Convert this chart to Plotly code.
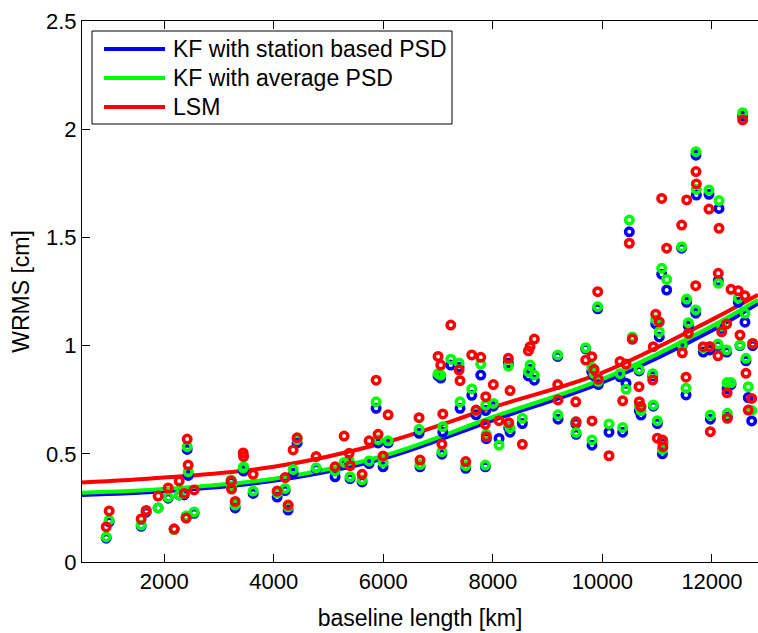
import plotly.graph_objects as go

# ---- data ----
baseline_km = [942, 996, 1580, 1672, 1890, 2073, 2182, 2274, 2365, 2401, 2420, 2438, 2547,
               3223, 3230, 3296, 3442, 3450, 3624, 4062, 4208, 4263, 4354, 4427, 4774, 5120,
               5285, 5376, 5394, 5613, 5741, 5869, 5905, 5996, 6088, 6653, 6671, 7000, 7049,
               7070, 7086, 7232, 7383, 7401, 7505, 7615, 7693, 7779, 7863, 7870, 7880, 8009,
               8113, 8283, 8290, 8314, 8538, 8648, 8679, 8757, 9184, 9190, 9513, 9520, 9695,
               9805, 9810, 9847, 9914, 9925, 10120, 10321, 10370, 10431, 10491, 10546, 10668,
               10673, 10704, 10918, 10929, 10973, 11002, 11038, 11082, 11095, 11105, 11173,
               11447, 11458, 11526, 11538, 11568, 11703, 11708, 11715, 11841, 11945, 11960,
               11970, 12110, 12115, 12128, 12177, 12268, 12275, 12280, 12347, 12480, 12511,
               12560, 12602, 12620, 12662, 12725, 12743]

wrms_kf_station = [0.11, 0.185, 0.165, 0.23, 0.25, 0.295, 0.152, 0.31, 0.31, 0.205, 0.52, 0.40, 0.225,
                   0.37, 0.345, 0.25, 0.425, 0.42, 0.317, 0.30, 0.33, 0.24, 0.41, 0.55, 0.43, 0.394,
                   0.45, 0.46, 0.385, 0.37, 0.455, 0.71, 0.55, 0.44, 0.55, 0.595, 0.44, 0.86, 0.85,
                   0.498, 0.60, 0.91, 0.90, 0.71, 0.433, 0.77, 0.68, 0.864, 0.44, 0.70, 0.57, 0.72,
                   0.571, 0.92, 0.62, 0.60, 0.64, 0.86, 0.89, 0.84, 0.95, 0.66, 0.64, 0.59, 0.985,
                   0.88, 0.54, 0.86, 1.17, 0.82, 0.60, 0.856, 0.60, 0.826, 1.526, 1.03, 0.883,
                   0.70, 0.679, 0.86, 0.72, 1.10, 0.64, 1.04, 1.33, 0.50, 0.55, 1.257,
                   1.45, 1.00, 0.772, 1.20, 1.09, 1.15, 1.88, 1.696, 0.97, 1.699, 0.98,
                   0.66, 1.00, 1.30, 1.634, 1.08, 0.97, 0.80, 0.67, 0.82, 1.20, 1.00,
                   2.06, 1.108, 0.93, 0.76, 0.652, 1.00]

wrms_kf_avg = [0.116, 0.194, 0.171, 0.236, 0.25, 0.30, 0.15, 0.31, 0.317, 0.213, 0.533, 0.417, 0.231,
               0.379, 0.35, 0.263, 0.435, 0.44, 0.328, 0.32, 0.34, 0.255, 0.428, 0.567, 0.435, 0.42,
               0.46, 0.47, 0.394, 0.38, 0.467, 0.74, 0.565, 0.46, 0.56, 0.613, 0.45, 0.87, 0.864,
               0.51, 0.625, 0.937, 0.92, 0.74, 0.445, 0.80, 0.70, 0.915, 0.448, 0.725, 0.59, 0.733,
               0.54, 0.905, 0.64, 0.62, 0.664, 0.88, 0.91, 0.864, 0.957, 0.68, 0.648, 0.598, 0.99,
               0.90, 0.564, 0.87, 1.18, 0.835, 0.638, 0.87, 0.622, 0.798, 1.58, 1.04, 0.89,
               0.72, 0.70, 0.87, 0.726, 1.12, 0.653, 1.064, 1.357, 0.52, 0.56, 1.306,
               1.457, 1.003, 0.803, 1.215, 1.106, 1.165, 1.896, 1.722, 0.99, 1.719, 0.995,
               0.679, 1.007, 1.288, 1.67, 1.09, 0.98, 0.829, 0.687, 0.829, 1.22, 1.003,
               2.076, 1.149, 0.941, 0.81, 0.70, 1.01]

wrms_lsm = [0.162, 0.236, 0.199, 0.238, 0.305, 0.342, 0.152, 0.374, 0.317, 0.203, 0.568, 0.448, 0.333,
            0.374, 0.337, 0.28, 0.504, 0.487, 0.405, 0.328, 0.39, 0.263, 0.518, 0.574, 0.487, 0.44,
            0.582, 0.502, 0.445, 0.405, 0.56, 0.84, 0.59, 0.49, 0.68, 0.667, 0.471, 0.95, 0.91,
            0.545, 0.684, 1.095, 0.887, 0.838, 0.464, 0.957, 0.702, 0.946, 0.636, 0.764, 0.579, 0.82,
            0.653, 0.941, 0.644, 0.792, 0.544, 0.976, 0.995, 1.03, 0.82, 0.749, 0.74, 0.648, 0.933,
            0.949, 0.652, 0.89, 1.249, 0.844, 0.491, 0.926, 0.745, 0.915, 1.473, 1.03, 0.81,
            0.741, 0.718, 0.841, 0.995, 1.145, 0.572, 1.11, 1.68, 0.564, 0.533, 1.45,
            1.557, 0.967, 0.854, 1.673, 1.057, 1.277, 1.804, 1.747, 0.995, 1.631, 0.995,
            0.602, 0.953, 1.334, 1.542, 1.064, 1.10, 0.782, 0.664, 1.26, 1.254, 1.049,
            2.043, 1.23, 0.872, 0.702, 0.756, 1.01]

# fitted trend curves
fit_km = [500, 2000, 4000, 6000, 8000, 10000, 12000, 12840]
fit_kf_station = [0.310, 0.327, 0.375, 0.478, 0.655, 0.830, 1.070, 1.195]
fit_kf_avg = [0.320, 0.337, 0.385, 0.490, 0.670, 0.845, 1.090, 1.212]
fit_lsm = [0.367, 0.390, 0.440, 0.550, 0.715, 0.875, 1.120, 1.235]

series_names = ["KF with station based PSD", "KF with average PSD", "LSM"]
series_colors = ["#0000FF", "#00FF00", "#FF0000"]

x_tick_vals = [2000, 4000, 6000, 8000, 10000, 12000]
x_tick_text = ["2000", "4000", "6000", "8000", "10000", "12000"]
y_tick_vals = [0, 0.5, 1, 1.5, 2, 2.5]
y_tick_text = ["0", "0.5", "1", "1.5", "2", "2.5"]

FONT = "Liberation Sans, Arial, Helvetica, sans-serif"

# plot-area geometry in pixels (used only to place the legend box)
W, H = 758, 633
ML, MR, MT, MB = 82, 0, 21, 71
PW, PH = W - ML - MR, H - MT - MB


def px_x(px):
    return (px - ML) / PW


def px_y(py):
    return (H - MB - py) / PH


fig = go.Figure()

for name, col, fy in zip(series_names, series_colors, [fit_kf_station, fit_kf_avg, fit_lsm]):
    fig.add_trace(go.Scatter(x=fit_km, y=fy, mode="lines", name=name, showlegend=False,
                             line=dict(color=col, width=4, shape="spline", smoothing=1.0)))

for name, col, vals in zip(series_names, series_colors, [wrms_kf_station, wrms_kf_avg, wrms_lsm]):
    fig.add_trace(go.Scatter(x=baseline_km, y=vals, mode="markers", name=name, showlegend=False,
                             marker=dict(symbol="circle-open", size=7.5, color=col,
                                         line=dict(color=col, width=3.5))))

# legend drawn as a boxed key (MATLAB style)
shapes = [dict(type="rect", xref="paper", yref="paper",
               x0=px_x(92), x1=px_x(452), y0=px_y(124), y1=px_y(31),
               line=dict(color="black", width=1), fillcolor="white", layer="above")]
annotations = []
row_y = [49, 78, 107]
for name, col, ry in zip(series_names, series_colors, row_y):
    shapes.append(dict(type="line", xref="paper", yref="paper",
                       x0=px_x(104), x1=px_x(165), y0=px_y(ry), y1=px_y(ry),
                       line=dict(color=col, width=4), layer="above"))
    annotations.append(dict(xref="paper", yref="paper", x=px_x(171), y=px_y(ry),
                            xanchor="left", yanchor="middle", text=name, showarrow=False,
                            font=dict(family=FONT, size=23, color="black")))

fig.update_layout(
    width=W, height=H,
    margin=dict(l=ML, r=MR, t=MT, b=MB, pad=0),
    paper_bgcolor="white", plot_bgcolor="white",
    font=dict(family=FONT, size=22, color="black"),
    showlegend=False,
    shapes=shapes, annotations=annotations,
    xaxis=dict(range=[500, 12840], tickvals=x_tick_vals, ticktext=x_tick_text,
               showline=True, linecolor="black", linewidth=1, mirror="ticks",
               ticks="inside", ticklen=8, tickwidth=1, tickcolor="black",
               showgrid=False, zeroline=False,
               title=dict(text="baseline length [km]", standoff=16,
                          font=dict(family=FONT, size=23))),
    yaxis=dict(range=[0, 2.5], tickvals=y_tick_vals, ticktext=y_tick_text,
               showline=True, linecolor="black", linewidth=1, mirror=False,
               ticks="inside", ticklen=8, tickwidth=1, tickcolor="black",
               showgrid=False, zeroline=False,
               title=dict(text="WRMS [cm]", standoff=9,
                          font=dict(family=FONT, size=23))),
)

fig.write_html("out.html")
